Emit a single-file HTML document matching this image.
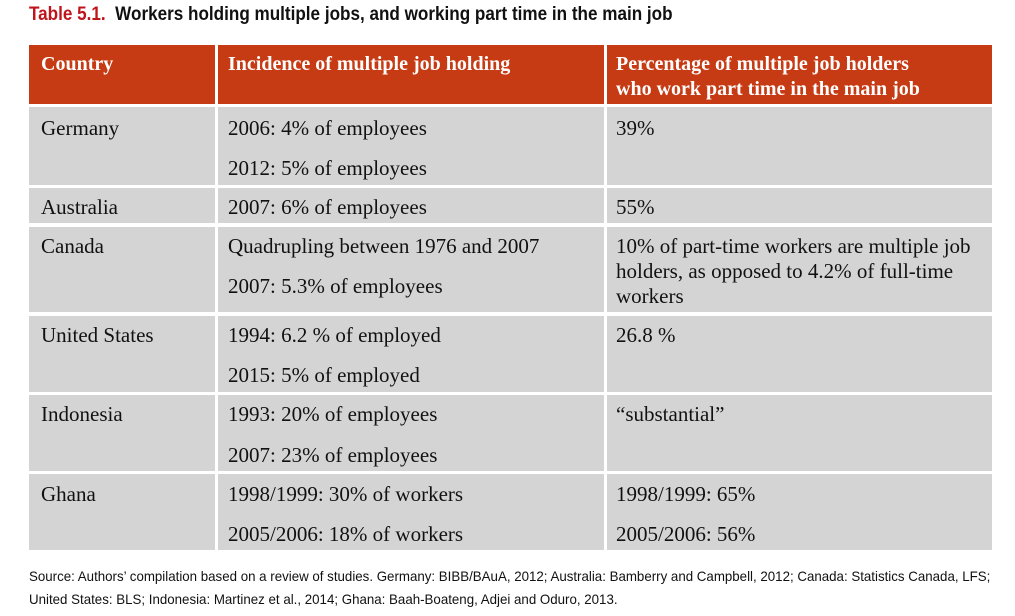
<!DOCTYPE html>
<html><head><meta charset="utf-8"><style>
body{margin:0;width:1015px;height:616px;background:#fff;position:relative;overflow:hidden}
.c{position:absolute;background:#d4d4d4}
.h{position:absolute;background:#c63b13}
.t{position:absolute;font-family:"Liberation Serif",serif;font-size:21px;color:#111;white-space:nowrap;line-height:25px}
.hd{position:absolute;font-family:"Liberation Serif",serif;font-size:20px;font-weight:bold;color:#fff;white-space:nowrap;line-height:25px}
.s{position:absolute;font-family:"Liberation Sans",sans-serif;font-size:14px;color:#111;white-space:nowrap;left:29px;transform-origin:0 0;transform:scaleX(0.95)}
</style></head><body>
<div style="position:absolute;left:29px;top:4px;font-family:'Liberation Sans',sans-serif;font-size:19px;font-weight:bold;white-space:nowrap;color:#111;transform-origin:0 0;transform:scaleX(0.9)"><span style="color:#c0141b">Table 5.1.</span>&nbsp; Workers holding multiple jobs, and working part time in the main job</div>

<div class="h" style="left:29px;top:45px;width:186px;height:59px"></div>
<div class="h" style="left:218px;top:45px;width:386px;height:59px"></div>
<div class="h" style="left:607px;top:45px;width:385px;height:59px"></div>
<div class="hd" style="left:41px;top:52px">Country</div>
<div class="hd" style="left:228px;top:52px">Incidence of multiple job holding</div>
<div class="hd" style="left:616px;top:52px">Percentage of multiple job holders<br>who work part time in the main job</div>

<div class="c" style="left:29px;top:107px;width:186px;height:78px"></div>
<div class="c" style="left:218px;top:107px;width:386px;height:78px"></div>
<div class="c" style="left:607px;top:107px;width:385px;height:78px"></div>
<div class="c" style="left:29px;top:188px;width:186px;height:35px"></div>
<div class="c" style="left:218px;top:188px;width:386px;height:35px"></div>
<div class="c" style="left:607px;top:188px;width:385px;height:35px"></div>
<div class="c" style="left:29px;top:227px;width:186px;height:85px"></div>
<div class="c" style="left:218px;top:227px;width:386px;height:85px"></div>
<div class="c" style="left:607px;top:227px;width:385px;height:85px"></div>
<div class="c" style="left:29px;top:316px;width:186px;height:76px"></div>
<div class="c" style="left:218px;top:316px;width:386px;height:76px"></div>
<div class="c" style="left:607px;top:316px;width:385px;height:76px"></div>
<div class="c" style="left:29px;top:395px;width:186px;height:76px"></div>
<div class="c" style="left:218px;top:395px;width:386px;height:76px"></div>
<div class="c" style="left:607px;top:395px;width:385px;height:76px"></div>
<div class="c" style="left:29px;top:474px;width:186px;height:76px"></div>
<div class="c" style="left:218px;top:474px;width:386px;height:76px"></div>
<div class="c" style="left:607px;top:474px;width:385px;height:76px"></div>

<div class="t" style="left:41px;top:116px">Germany</div>
<div class="t" style="left:228px;top:116px">2006: 4% of employees</div>
<div class="t" style="left:228px;top:156px">2012: 5% of employees</div>
<div class="t" style="left:616px;top:116px">39%</div>

<div class="t" style="left:41px;top:195px">Australia</div>
<div class="t" style="left:228px;top:195px">2007: 6% of employees</div>
<div class="t" style="left:616px;top:195px">55%</div>

<div class="t" style="left:41px;top:234px">Canada</div>
<div class="t" style="left:228px;top:234px">Quadrupling between 1976 and 2007</div>
<div class="t" style="left:228px;top:274px">2007: 5.3% of employees</div>
<div class="t" style="left:616px;top:234px">10% of part-time workers are multiple job<br>holders, as opposed to 4.2% of full-time<br>workers</div>

<div class="t" style="left:41px;top:323px">United States</div>
<div class="t" style="left:228px;top:323px">1994: 6.2 % of employed</div>
<div class="t" style="left:228px;top:363px">2015: 5% of employed</div>
<div class="t" style="left:616px;top:323px">26.8 %</div>

<div class="t" style="left:41px;top:402px">Indonesia</div>
<div class="t" style="left:228px;top:402px">1993: 20% of employees</div>
<div class="t" style="left:228px;top:443px">2007: 23% of employees</div>
<div class="t" style="left:616px;top:402px">“substantial”</div>

<div class="t" style="left:41px;top:482px">Ghana</div>
<div class="t" style="left:228px;top:482px">1998/1999: 30% of workers</div>
<div class="t" style="left:228px;top:522px">2005/2006: 18% of workers</div>
<div class="t" style="left:616px;top:482px">1998/1999: 65%</div>
<div class="t" style="left:616px;top:522px">2005/2006: 56%</div>

<div class="s" style="top:568px">Source: Authors’ compilation based on a review of studies. Germany: BIBB/BAuA, 2012; Australia: Bamberry and Campbell, 2012; Canada: Statistics Canada, LFS;</div>
<div class="s" style="top:591px">United States: BLS; Indonesia: Martinez et al., 2014; Ghana: Baah-Boateng, Adjei and Oduro, 2013.</div>
</body></html>
